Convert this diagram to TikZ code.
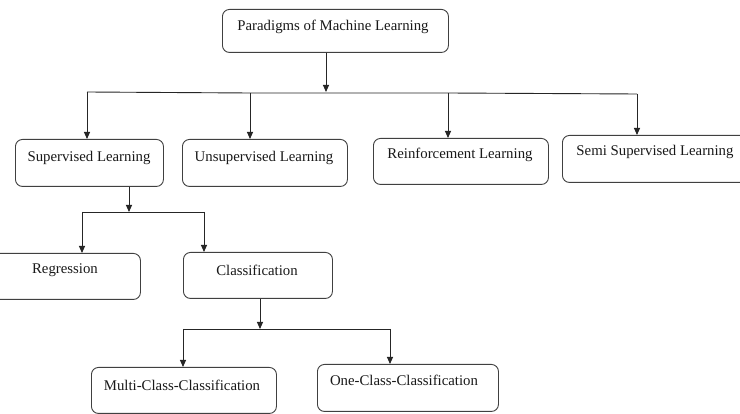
\documentclass[tikz,border=0pt]{standalone}
\usepackage{fontspec}
\setmainfont{Liberation Serif}
\usetikzlibrary{arrows.meta}
\begin{document}
\begin{tikzpicture}[x=1pt,y=-1pt,
  box/.style={draw=black!75,line width=0.9pt,rounded corners=7pt,inner sep=0pt,anchor=north west},
  lbl/.style={font=\fontsize{14.8}{17}\selectfont,inner sep=0pt,text=black!90},
  conn/.style={draw=black!85,line width=0.9pt},
  arr/.style={conn,-{Triangle[width=6pt,length=7pt]}}]
\useasboundingbox (0,0) rectangle (740,414);
\clip (0,0) rectangle (740,414);
\fill[white] (0,0) rectangle (740,414);

% boxes
\node[box,minimum width=226pt,minimum height=43pt] (root) at (222,9) {};
\node[lbl] (troot) at (333,27) {Paradigms of Machine Learning};

\node[box,minimum width=148pt,minimum height=47pt] (sup) at (15,139) {};
\node[lbl] (tsup) at (89,158) {Supervised Learning};

\node[box,minimum width=165pt,minimum height=47pt] (unsup) at (182,139) {};
\node[lbl] (tunsup) at (264,158) {Unsupervised Learning};

\node[box,minimum width=175pt,minimum height=46pt] (reinf) at (373,138) {};
\node[lbl] (treinf) at (460,155) {Reinforcement Learning};

\node[box,minimum width=185pt,minimum height=47pt] (semi) at (562,135) {};
\node[lbl] (tsemi) at (655,152) {Semi Supervised Learning};

\node[box,minimum width=148pt,minimum height=46pt] (regr) at (-8,253) {};
\node[lbl] (tregr) at (65,270) {Regression};

\node[box,minimum width=149pt,minimum height=46pt] (class) at (183,252) {};
\node[lbl] (tclass) at (257,270) {Classification};

\node[box,minimum width=185pt,minimum height=46pt] (multi) at (91,367) {};
\node[lbl] (tmulti) at (182,385) {Multi-Class-Classification};

\node[box,minimum width=181pt,minimum height=47pt] (one) at (317,364) {};
\node[lbl] (tone) at (404,380) {One-Class-Classification};

% level 1 connectors
\coordinate (b0) at (326,92);
\coordinate (b1) at (87,92);
\coordinate (b2) at (250,93);
\coordinate (b3) at (448,93);
\coordinate (b4) at (637,94);
\draw[arr] (root.south -| b0) -- (b0);
\draw[conn] (b1) -- (b2) -- (b3) -- (b4);
\draw[arr] (b1) -- (b1 |- sup.north);
\draw[arr] (b2) -- (b2 |- unsup.north);
\draw[arr] (b3) -- (b3 |- reinf.north);
\draw[arr] (b4) -- (b4 |- semi.north);

% level 2 connectors
\coordinate (s0) at (129,212);
\coordinate (s1) at (82,212);
\coordinate (s2) at (204,212);
\draw[arr] (sup.south -| s0) -- (s0);
\draw[conn] (s1) -- (s2);
\draw[arr] (s1) -- (s1 |- regr.north);
\draw[arr] (s2) -- (s2 |- class.north);

% level 3 connectors
\coordinate (c0) at (260,329);
\coordinate (c1) at (183,329);
\coordinate (c2) at (390,329);
\draw[arr] (class.south -| c0) -- (c0);
\draw[conn] (c1) -- (c2);
\draw[arr] (c1) -- (c1 |- multi.north);
\draw[arr] (c2) -- (c2 |- one.north);
\end{tikzpicture}
\end{document}
